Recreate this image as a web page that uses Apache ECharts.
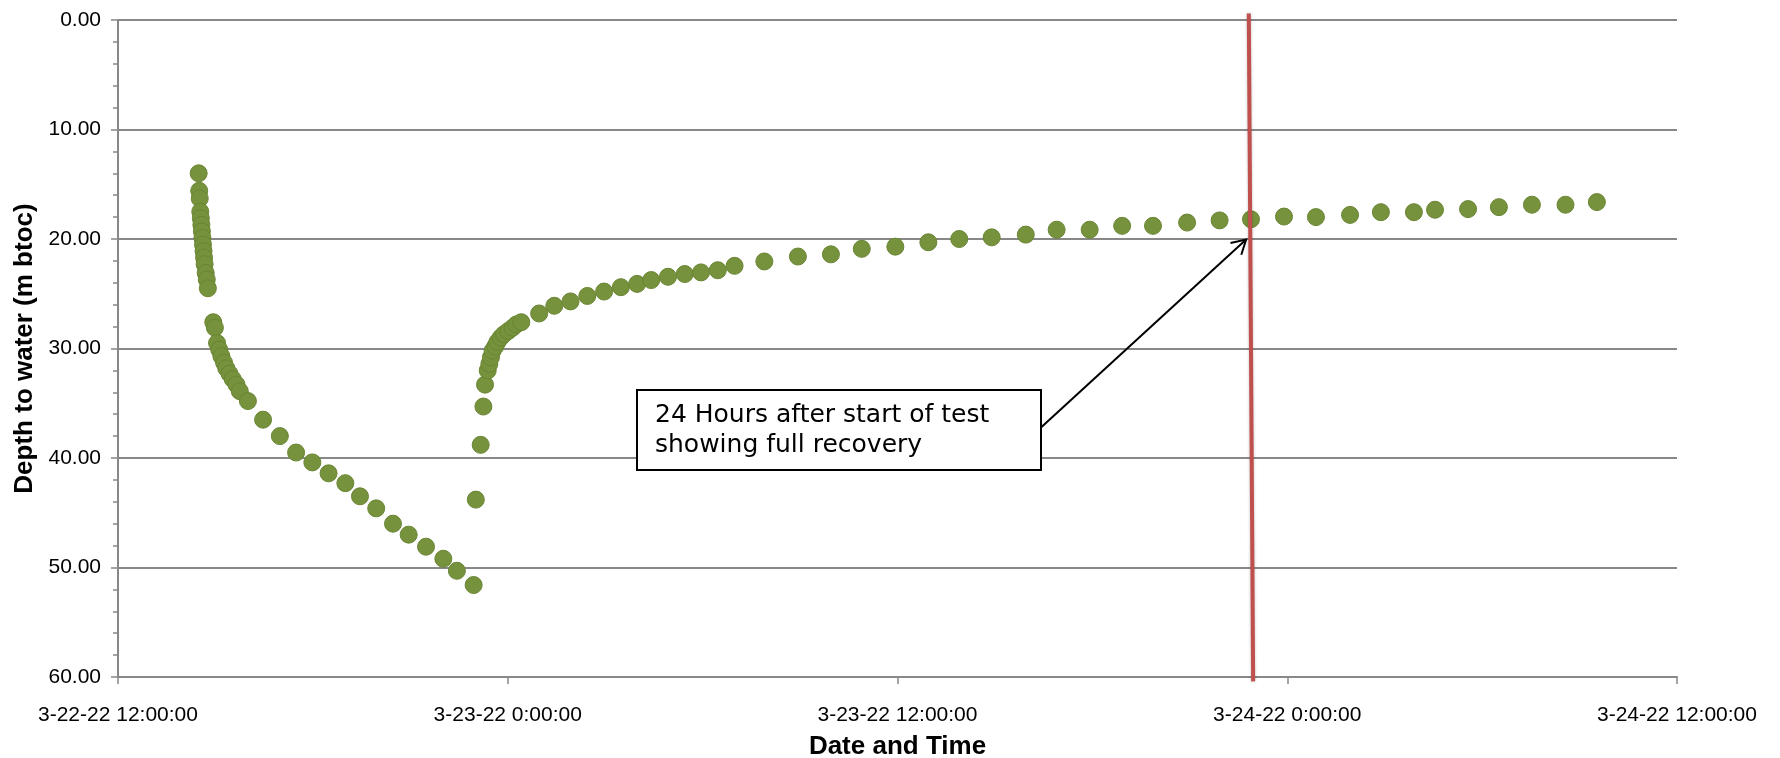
<!DOCTYPE html>
<html>
<head>
<meta charset="utf-8">
<script src="https://cdn.jsdelivr.net/npm/echarts@6/dist/echarts.min.js"></script>
<style>
  html, body { margin: 0; padding: 0; background: #ffffff; }
  #chart { width: 1780px; height: 758px; }
</style>
</head>
<body>
<div id="chart"></div>
<script>
// Pumping phase: time of reading and depth to water (m below top of casing)
const pumpTimes = [
  '2022-03-22 14:29', '2022-03-22 14:30', '2022-03-22 14:31', '2022-03-22 14:32',
  '2022-03-22 14:33', '2022-03-22 14:34', '2022-03-22 14:35', '2022-03-22 14:36',
  '2022-03-22 14:37', '2022-03-22 14:38', '2022-03-22 14:39', '2022-03-22 14:40',
  '2022-03-22 14:42', '2022-03-22 14:44', '2022-03-22 14:46', '2022-03-22 14:56',
  '2022-03-22 14:59', '2022-03-22 15:03', '2022-03-22 15:07', '2022-03-22 15:11',
  '2022-03-22 15:16', '2022-03-22 15:20', '2022-03-22 15:26', '2022-03-22 15:32',
  '2022-03-22 15:39', '2022-03-22 15:45', '2022-03-22 16:00', '2022-03-22 16:28',
  '2022-03-22 16:59', '2022-03-22 17:29', '2022-03-22 17:59', '2022-03-22 18:29',
  '2022-03-22 19:00', '2022-03-22 19:27', '2022-03-22 19:57', '2022-03-22 20:28',
  '2022-03-22 20:57', '2022-03-22 21:29', '2022-03-22 22:01', '2022-03-22 22:26',
  '2022-03-22 22:57'
];
const pumpDepths = [
  14.0, 15.6, 16.3, 17.5,
  18.1, 18.7, 19.3, 19.9,
  20.5, 21.1, 21.7, 22.3,
  23.1, 23.7, 24.5, 27.6,
  28.1, 29.5, 30.1, 30.7,
  31.3, 31.8, 32.3, 32.8,
  33.3, 33.9, 34.8, 36.5,
  38.0, 39.5, 40.4, 41.4,
  42.3, 43.5, 44.6, 46.0,
  47.0, 48.1, 49.2, 50.3,
  51.6
];

// Recovery phase after the pump was switched off
const recoveryTimes = [
  '2022-03-22 23:01', '2022-03-22 23:10', '2022-03-22 23:15', '2022-03-22 23:18',
  '2022-03-22 23:23', '2022-03-22 23:26', '2022-03-22 23:29', '2022-03-22 23:32',
  '2022-03-22 23:37', '2022-03-22 23:41', '2022-03-22 23:47', '2022-03-22 23:53',
  '2022-03-23 00:01', '2022-03-23 00:09', '2022-03-23 00:16', '2022-03-23 00:25',
  '2022-03-23 00:58', '2022-03-23 01:26', '2022-03-23 01:56', '2022-03-23 02:27',
  '2022-03-23 02:58', '2022-03-23 03:29', '2022-03-23 03:59', '2022-03-23 04:25',
  '2022-03-23 04:56', '2022-03-23 05:27', '2022-03-23 05:57', '2022-03-23 06:28',
  '2022-03-23 06:59', '2022-03-23 07:54', '2022-03-23 08:56', '2022-03-23 09:57',
  '2022-03-23 10:54', '2022-03-23 11:56', '2022-03-23 12:57', '2022-03-23 13:54',
  '2022-03-23 14:54', '2022-03-23 15:57', '2022-03-23 16:54', '2022-03-23 17:55',
  '2022-03-23 18:55', '2022-03-23 19:52', '2022-03-23 20:55', '2022-03-23 21:55',
  '2022-03-23 22:53', '2022-03-23 23:54', '2022-03-24 00:53', '2022-03-24 01:56',
  '2022-03-24 02:53', '2022-03-24 03:54', '2022-03-24 04:33', '2022-03-24 05:34',
  '2022-03-24 06:31', '2022-03-24 07:32', '2022-03-24 08:34', '2022-03-24 09:32'
];
const recoveryDepths = [
  43.8, 38.8, 35.3, 33.3,
  32.0, 31.4, 30.8, 30.2,
  29.8, 29.4, 29.0, 28.7,
  28.4, 28.1, 27.8, 27.6,
  26.8, 26.1, 25.7, 25.2,
  24.8, 24.4, 24.1, 23.75,
  23.45, 23.2, 23.05, 22.85,
  22.45, 22.05, 21.6, 21.4,
  20.9, 20.7, 20.3, 20.0,
  19.85, 19.6, 19.15, 19.15,
  18.8, 18.8, 18.5, 18.3,
  18.2, 17.95, 18.0, 17.8,
  17.55, 17.55, 17.33, 17.27,
  17.09, 16.87, 16.87, 16.63
];

// Vertical marker line
const markerTimes = ['2022-03-23 22:49', '2022-03-23 22:57'];
const markerDepths = [-0.6, 60.4];

// Callout text and arrow (from the box to the marked reading)
const noteLines = ['24 Hours after start of test', 'showing full recovery'];
const arrowFrom = ['2022-03-23 16:21', 37.4];
const arrowTo = ['2022-03-23 22:44', 20.05];

// Axis extents
const xRange = ['2022-03-22 12:00', '2022-03-24 12:00'];
const xStepHours = 12;
const yRange = [0, 60];
const yStep = 10;

function toMs(s) {
  const [d, t] = s.split(' ');
  const [Y, M, D] = d.split('-').map(Number);
  const [h, m] = t.split(':').map(Number);
  return Date.UTC(Y, M - 1, D, h, m);
}
const pad = n => String(n).padStart(2, '0');
function fmtTime(v) {
  const d = new Date(v);
  return (d.getUTCMonth() + 1) + '-' + d.getUTCDate() + '-' + String(d.getUTCFullYear()).slice(2) +
    ' ' + d.getUTCHours() + ':' + pad(d.getUTCMinutes()) + ':' + pad(d.getUTCSeconds());
}

const points = pumpTimes.map((t, i) => [toMs(t), pumpDepths[i]])
  .concat(recoveryTimes.map((t, i) => [toMs(t), recoveryDepths[i]]));
const markerLine = markerTimes.map((t, i) => [toMs(t), markerDepths[i]]);

const gridGray = '#888888';
const labelFont = "'Liberation Sans', Arial, sans-serif";

const chart = echarts.init(document.getElementById('chart'), null, { renderer: 'canvas' });

chart.setOption({
  animation: false,
  backgroundColor: '#ffffff',
  grid: { left: 118, right: 103, top: 20, bottom: 81, containLabel: false, outerBoundsMode: 'none' },
  xAxis: {
    type: 'value',
    min: toMs(xRange[0]),
    max: toMs(xRange[1]),
    interval: xStepHours * 3600 * 1000,
    name: 'Date and Time',
    nameLocation: 'middle',
    nameGap: 57,
    nameTextStyle: { fontFamily: labelFont, fontWeight: 'bold', fontSize: 26, color: '#000' },
    axisLine: { onZero: false, lineStyle: { color: gridGray, width: 2 } },
    axisTick: { show: true, length: 7, lineStyle: { color: gridGray, width: 1.5 } },
    axisLabel: {
      formatter: fmtTime, margin: 28, fontFamily: labelFont, fontSize: 21, color: '#000',
      showMinLabel: true, showMaxLabel: true
    },
    splitLine: { show: false }
  },
  yAxis: {
    type: 'value',
    inverse: true,
    min: yRange[0],
    max: yRange[1],
    interval: yStep,
    name: 'Depth to water (m btoc)',
    nameLocation: 'middle',
    nameGap: 80,
    nameTextStyle: { fontFamily: labelFont, fontWeight: 'bold', fontSize: 26, color: '#000' },
    axisLine: { show: true, lineStyle: { color: gridGray, width: 2 } },
    axisTick: { show: true, length: 7, lineStyle: { color: gridGray, width: 1.5 } },
    minorTick: { show: true, splitNumber: 5, length: 5, lineStyle: { color: gridGray, width: 1.5 } },
    axisLabel: {
      formatter: v => v.toFixed(2), margin: 17, fontFamily: labelFont, fontSize: 21, color: '#000'
    },
    splitLine: { show: true, lineStyle: { color: gridGray, width: 2 } }
  },
  series: [
    {
      name: 'Depth to water',
      type: 'scatter',
      data: points,
      symbol: 'circle',
      symbolSize: 17,
      itemStyle: { color: '#76923c', borderColor: '#6a8534', borderWidth: 1, opacity: 1 },
      z: 3
    },
    {
      name: 'Marker',
      type: 'line',
      data: markerLine,
      symbol: 'none',
      clip: false,
      lineStyle: { color: '#c0504d', width: 4, shadowColor: 'rgba(0,0,0,0.25)', shadowBlur: 3 },
      z: 4
    }
  ]
});

// Callout box and arrow, placed after the axes exist so the arrow follows the data scale
const p1 = chart.convertToPixel({ gridIndex: 0 }, [toMs(arrowFrom[0]), arrowFrom[1]]);
const p2 = chart.convertToPixel({ gridIndex: 0 }, [toMs(arrowTo[0]), arrowTo[1]]);
const dx = p2[0] - p1[0], dy = p2[1] - p1[1];
const len = Math.hypot(dx, dy);
const ux = dx / len, uy = dy / len;
const headLen = 16, headAng = 30 * Math.PI / 180;
function wing(sign) {
  const c = Math.cos(sign * headAng), s = Math.sin(sign * headAng);
  const rx = ux * c - uy * s, ry = ux * s + uy * c;
  return [p2[0] - headLen * rx, p2[1] - headLen * ry];
}

chart.setOption({
  graphic: [
    {
      type: 'line',
      shape: { x1: p1[0], y1: p1[1], x2: p2[0], y2: p2[1] },
      style: { stroke: '#000', lineWidth: 2 },
      z: 10
    },
    {
      type: 'polyline',
      shape: { points: [wing(1), p2, wing(-1)] },
      style: { stroke: '#000', lineWidth: 2, fill: null },
      z: 10
    },
    {
      type: 'rect',
      shape: { x: 637, y: 390, width: 404, height: 80 },
      style: { fill: '#ffffff', stroke: '#000', lineWidth: 2 },
      z: 11
    },
    {
      type: 'text',
      x: 655,
      y: 400,
      style: {
        text: noteLines.join('\n'),
        font: "25px 'DejaVu Sans', sans-serif",
        lineHeight: 30,
        fill: '#000',
        textVerticalAlign: 'top'
      },
      z: 12
    }
  ]
});
</script>
</body>
</html>
